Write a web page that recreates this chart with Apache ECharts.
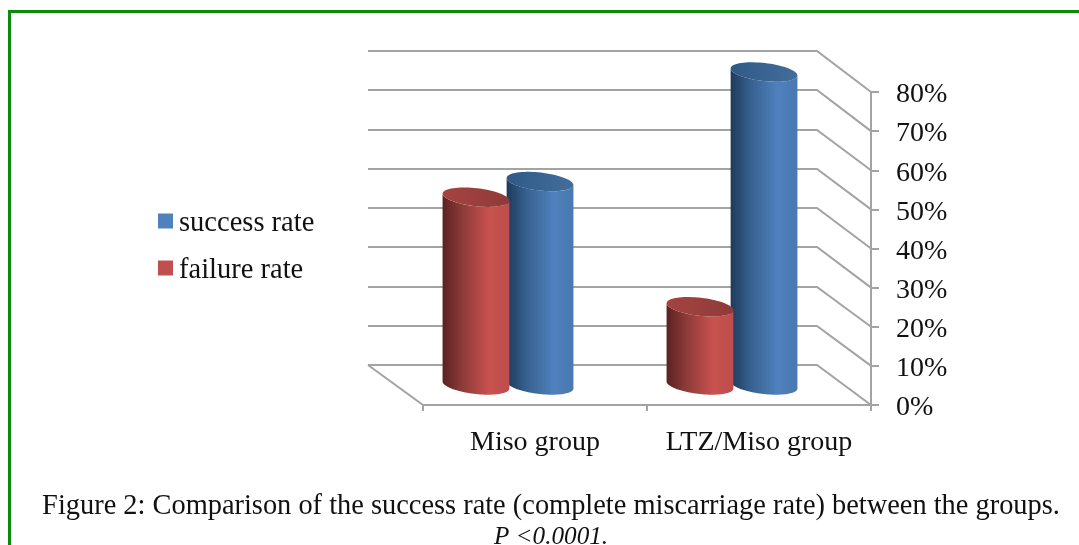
<!DOCTYPE html>
<html><head><meta charset="utf-8">
<style>html,body{margin:0;padding:0;background:#fff}#c{width:1079px;height:545px}</style>
<script src="https://cdn.jsdelivr.net/npm/echarts@6/dist/echarts.min.js"></script>
</head><body><div id="c"></div>
<script>
const categories = ['Miso group', 'LTZ/Miso group'];
const successRate = [52, 80];
const failureRate = [48, 20];
const yTicks = [0, 10, 20, 30, 40, 50, 60, 70, 80];
const FONT = '"Liberation Serif"';
const GRID = '#a3a3a3';

const depth = { x: -54, y: -40 };
const mid = { x: -27, y: -20 };
const rot = 6.5 * Math.PI / 180;

function ellPts(cx, cy, a, b, t0, t1, n) {
  const out = [];
  for (let i = 0; i <= n; i++) {
    const t = t0 + (t1 - t0) * i / n;
    out.push([
      cx + a * Math.cos(t) * Math.cos(rot) - b * Math.sin(t) * Math.sin(rot),
      cy + a * Math.cos(t) * Math.sin(rot) + b * Math.sin(t) * Math.cos(rot)
    ]);
  }
  return out;
}
function grad(stops) {
  return { type: 'linear', x: 0, y: 0, x2: 1, y2: 0,
    colorStops: stops.map(s => ({ offset: s[0], color: s[1] })) };
}
function cylinder(offsetFrac, body, top) {
  return function (params, api) {
    const cat = api.value(0), val = api.value(1);
    const w = api.size([1, 0])[0];
    const p1 = api.coord([cat, val]), p0 = api.coord([cat, 0]);
    const cx = p1[0] + mid.x + offsetFrac * w;
    const yt = p1[1] + mid.y, yb = p0[1] + mid.y;
    const a = w * 0.15, b = 9;
    const t0 = Math.atan(-(b / a) * Math.tan(rot));
    const base = ellPts(cx, yb, a, b, t0, t0 + Math.PI, 48);
    const upper = ellPts(cx, yt, a, b, t0 + Math.PI, t0, 48);
    return { type: 'group', children: [
      { type: 'polygon', shape: { points: base.concat(upper) }, style: { fill: grad(body) } },
      { type: 'polygon', shape: { points: ellPts(cx, yt, a, b, 0, 2 * Math.PI, 72) }, style: { fill: grad(top) } }
    ] };
  };
}
const wall = function (params, api) {
  const v = api.value(0);
  const cs = params.coordSys;
  const l = cs.x, r = cs.x + cs.width;
  const y = api.coord([0, v])[1];
  const by = Math.round(y + depth.y - v / 80);
  const children = [];
  children.push({ type: 'polyline', shape: { points: [[l + depth.x - 1, by], [r + depth.x, by], [r, y]] },
    style: { fill: null, stroke: GRID, lineWidth: 2 } });
  if (v === 0) children.push({ type: 'line', shape: { x1: l + depth.x - 1, y1: by, x2: l, y2: y },
    style: { stroke: GRID, lineWidth: 2 } });
  return { type: 'group', children };
};

const chart = echarts.init(document.getElementById('c'), null, { renderer: 'canvas' });
chart.setOption({
  animation: false,
  backgroundColor: '#ffffff',
  grid: { left: 423, top: 92, width: 448, height: 313, containLabel: false },
  xAxis: { type: 'category', data: categories, position: 'bottom',
    axisLine: { lineStyle: { color: GRID, width: 2 } },
    axisTick: { show: true, interval: 0, length: 6, lineStyle: { color: GRID, width: 2 } },
    axisLabel: { interval: 0, color: '#111', fontFamily: FONT, fontSize: 28, margin: 24 },
    splitLine: { show: false } },
  yAxis: { type: 'value', position: 'right', min: 0, max: 80, interval: 10,
    axisLine: { show: true, lineStyle: { color: GRID, width: 2 } },
    axisTick: { show: true, length: 8, lineStyle: { color: GRID, width: 2 } },
    axisLabel: { color: '#111', fontFamily: FONT, fontSize: 28, margin: 25, formatter: '{t|{value}%}',
      rich: { t: { color: '#111', fontFamily: FONT, fontSize: 28, padding: [6, 0, 0, 0] } } },
    splitLine: { show: false } },
  legend: { orient: 'vertical', left: 158, top: 209, padding: 0, itemWidth: 15, itemHeight: 15, itemGap: 18,
    icon: 'rect', selectedMode: false, data: ['success rate', 'failure rate'],
    formatter: '{t|{name}}',
    textStyle: { color: '#111', fontFamily: FONT, fontSize: 28.5,
      rich: { t: { color: '#111', fontFamily: FONT, fontSize: 28.5, padding: [5, 0, 0, 1] } } } },
  title: [
    { text: 'Figure 2: Comparison of the success rate (complete miscarriage rate) between the groups.',
      left: 551, top: 493, textAlign: 'center', padding: 0,
      textStyle: { color: '#111', fontFamily: FONT, fontSize: 28.4, fontWeight: 'normal' } },
    { text: 'P <0.0001.', left: 551, top: 525, textAlign: 'center', padding: 0,
      textStyle: { color: '#111', fontFamily: FONT, fontSize: 25.2, fontStyle: 'italic', fontWeight: 'normal' } }
  ],
  graphic: [
    { type: 'polyline', silent: true, shape: { points: [[9.5, 545], [9.5, 11.5], [1079, 11.5]] },
      style: { fill: null, stroke: '#0b8a0b', lineWidth: 3 } }
  ],
  series: [
    { type: 'custom', name: 'wall', z: 1, silent: true, renderItem: wall,
      encode: { y: 0 }, data: yTicks.map(v => [v]), clip: false, legendHoverLink: false },
    { type: 'custom', name: 'success rate', z: 2, itemStyle: { color: '#4f81bd' }, clip: false,
      renderItem: cylinder(0.143,
        [[0, '#1f3a5a'], [0.3, '#37618f'], [0.7, '#4f81bd'], [1, '#4a78b0']],
        [[0, '#2f5a88'], [1, '#436d9b']]),
      encode: { x: 0, y: 1 }, data: successRate.map((v, i) => [i, v]) },
    { type: 'custom', name: 'failure rate', z: 3, itemStyle: { color: '#c0504d' }, clip: false,
      renderItem: cylinder(-0.143,
        [[0, '#5a2220'], [0.3, '#8e3b39'], [0.7, '#c9524f'], [1, '#bd4e4b']],
        [[0, '#a54341'], [1, '#8f3b39']]),
      encode: { x: 0, y: 1 }, data: failureRate.map((v, i) => [i, v]) }
  ]
});
</script></body></html>
